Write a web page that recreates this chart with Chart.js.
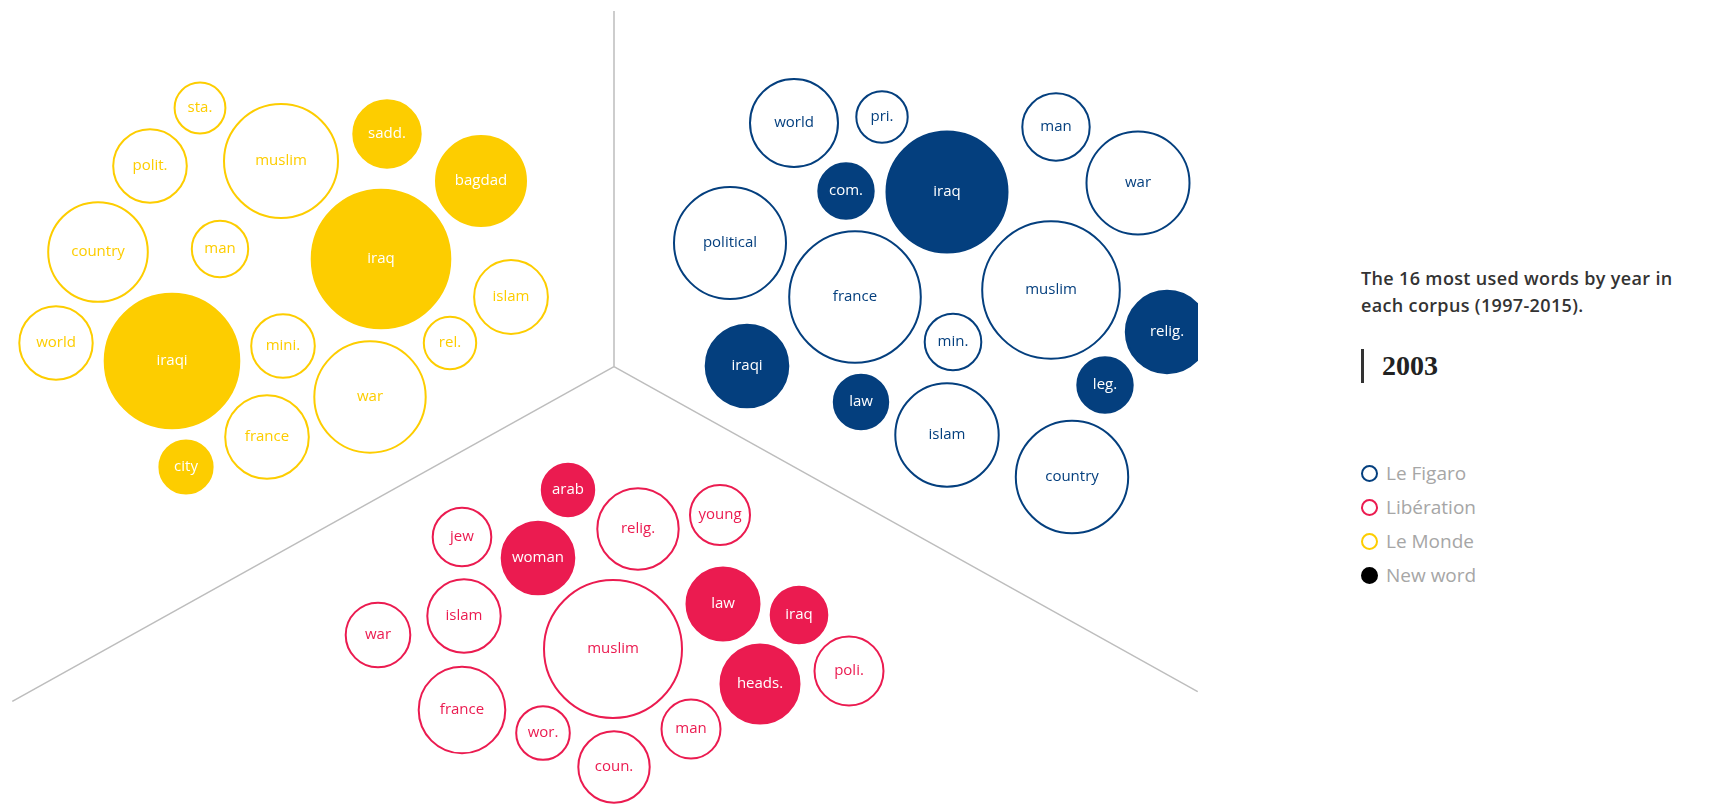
<!DOCTYPE html>
<html>
<head>
<meta charset="utf-8">
<script src="https://cdn.jsdelivr.net/npm/chart.js@4.4.1/dist/chart.umd.min.js"></script>
<style>
  html, body { margin: 0; padding: 0; background: #fff; }
  body { width: 1721px; height: 811px; position: relative; overflow: hidden; font-family: "Open Sans", sans-serif; }
  #wrap { position: absolute; left: 0; top: 0; width: 1198px; height: 811px; }
  #title { position: absolute; left: 1361px; top: 265px; width: 340px; font-size: 18px; line-height: 27px; font-weight: 600; letter-spacing: 0.35px; color: #333; }
  #bar { position: absolute; left: 1361px; top: 349px; width: 3px; height: 34px; background: #333; }
  #year { position: absolute; left: 1382px; top: 352px; font-family: "Liberation Serif", serif; font-weight: bold; font-size: 28px; line-height: 27px; color: #222; }
  .lg { position: absolute; left: 1361px; height: 20px; display: flex; align-items: center; font-size: 19px; color: #a6a6a6; }
  .lg i { display: inline-block; width: 13px; height: 13px; border-radius: 50%; border: 2.5px solid; margin-right: 8px; box-sizing: content-box; }
</style>
</head>
<body>
<div id="wrap"><canvas id="c"></canvas></div>
<div id="title">The 16 most used words by year in each corpus (1997-2015).</div>
<div id="bar"></div>
<div id="year">2003</div>
<div id="legend"></div>
<script>
// ---- Data (year 2003) ----
const papers = ["Le Figaro", "Libération", "Le Monde"];
const paperColors = ["#043F7E", "#EB1B50", "#FDCD00"];

// Le Monde
const mondeWords = ["sta.", "polit.", "muslim", "sadd.", "bagdad", "country", "man", "iraq", "islam", "world", "iraqi", "mini.", "rel.", "war", "france", "city"];
const mondeX = [200, 150, 281, 387, 481, 98, 220, 381, 511, 56, 172, 283, 450, 370, 267, 186];
const mondeY = [108, 166, 161, 134, 181, 252, 249, 259, 297, 343, 361, 346, 343, 397, 437, 467];
const mondeSize = [25.4, 36.8, 57, 33.7, 45, 49.8, 28.2, 69.3, 36.9, 36.7, 67.3, 31.8, 26.2, 55.7, 41.8, 26.6];
const mondeNew = [false, false, false, true, true, false, false, true, false, false, true, false, false, false, false, true];

// Le Figaro
const figaroWords = ["world", "pri.", "com.", "iraq", "man", "war", "political", "france", "muslim", "min.", "relig.", "iraqi", "law", "leg.", "islam", "country"];
const figaroX = [794, 882, 846, 947, 1056, 1138, 730, 855, 1051, 953, 1167, 747, 861, 1105, 947, 1072];
const figaroY = [123, 117, 191, 192, 127, 183, 243, 297, 290, 342, 332, 366, 402, 385, 435, 477];
const figaroSize = [44, 25.7, 27.7, 60.5, 33.7, 51.5, 56, 65.8, 68.8, 28.3, 41.2, 41.3, 27.2, 27.7, 51.7, 56.2];
const figaroNew = [false, false, true, true, false, false, false, false, false, false, true, true, true, true, false, false];

// Libération
const liberationWords = ["arab", "jew", "woman", "relig.", "young", "islam", "war", "muslim", "law", "iraq", "heads.", "poli.", "france", "wor.", "coun.", "man"];
const liberationX = [568, 462, 538, 638, 720, 464, 378, 613, 723, 799, 760, 849, 462, 543, 614, 691];
const liberationY = [490, 537, 558, 529, 515, 616, 635, 649, 604, 615, 684, 671, 710, 733, 767, 729];
const liberationSize = [26.2, 29.3, 36.3, 40.7, 30, 36.7, 32.3, 69, 36.5, 28.3, 39.5, 34.5, 43.3, 26.8, 35.7, 29.5];
const liberationNew = [true, false, true, false, false, false, false, false, true, true, true, false, false, false, false, false];

// Sector dividers (layout frame)
const dividerCenter = {x: 614, y: 366.7};
const dividerEnds = [{x: 614, y: 11}, {x: 12.3, y: 701.3}, {x: 1197.7, y: 691.7}];

const legendLabels = ["Le Figaro", "Libération", "Le Monde", "New word"];

// ---- Build ----
function bubbleSet(label, color, words, xs, ys, rs, isNew) {
  return {
    type: 'bubble',
    label: label,
    words: words,
    isNew: isNew,
    color: color,
    data: words.map((w, i) => ({x: xs[i], y: ys[i], r: rs[i]})),
    backgroundColor: isNew.map(n => n ? color : '#ffffff'),
    borderColor: color,
    borderWidth: 2,
    hoverBorderWidth: 2,
    hoverRadius: 0,
    clip: 0
  };
}

const dividerSets = dividerEnds.map(e => ({
  type: 'line',
  data: [dividerCenter, e],
  borderColor: '#bdbdbd',
  borderWidth: 1.5,
  pointRadius: 0,
  fill: false,
  clip: 0,
  isDivider: true
}));

const datasets = [
  ...dividerSets,
  bubbleSet(papers[2], paperColors[2], mondeWords, mondeX, mondeY, mondeSize, mondeNew),
  bubbleSet(papers[0], paperColors[0], figaroWords, figaroX, figaroY, figaroSize, figaroNew),
  bubbleSet(papers[1], paperColors[1], liberationWords, liberationX, liberationY, liberationSize, liberationNew)
];

const wordLabels = {
  id: 'wordLabels',
  afterDatasetsDraw(chart) {
    const ctx = chart.ctx;
    ctx.save();
    ctx.beginPath();
    ctx.rect(chart.chartArea.left, chart.chartArea.top, chart.chartArea.right - chart.chartArea.left, chart.chartArea.bottom - chart.chartArea.top);
    ctx.clip();
    ctx.font = '400 15px "Open Sans", sans-serif';
    ctx.textAlign = 'center';
    ctx.textBaseline = 'middle';
    chart.data.datasets.forEach((ds, di) => {
      if (!ds.words) return;
      const meta = chart.getDatasetMeta(di);
      meta.data.forEach((el, i) => {
        ctx.fillStyle = ds.isNew[i] ? '#ffffff' : ds.color;
        ctx.fillText(ds.words[i], el.x, el.y);
      });
    });
    ctx.restore();
  }
};

new Chart(document.getElementById('c'), {
  type: 'bubble',
  data: { datasets: datasets },
  options: {
    responsive: true,
    maintainAspectRatio: false,
    animation: false,
    events: [],
    layout: { padding: 0, autoPadding: false },
    scales: {
      x: { type: 'linear', min: 0, max: 1198, display: false },
      y: { type: 'linear', min: 0, max: 811, reverse: true, display: false }
    },
    plugins: { legend: { display: false }, tooltip: { enabled: false } }
  },
  plugins: [wordLabels]
});

// HTML legend
const legendColors = [paperColors[0], paperColors[1], paperColors[2], '#000000'];
const legendTops = [463, 497, 531, 565];
const lg = document.getElementById('legend');
legendLabels.forEach((t, i) => {
  const d = document.createElement('div');
  d.className = 'lg';
  d.style.top = legendTops[i] + 'px';
  const dot = document.createElement('i');
  dot.style.borderColor = legendColors[i];
  if (i === 3) dot.style.background = legendColors[i];
  d.appendChild(dot);
  d.appendChild(document.createTextNode(t));
  lg.appendChild(d);
});
</script>
</body>
</html>
